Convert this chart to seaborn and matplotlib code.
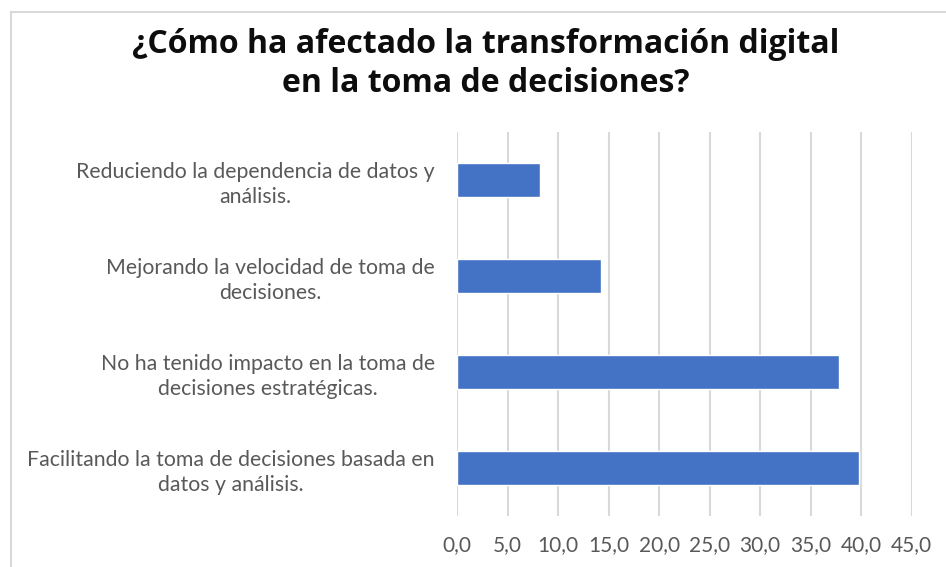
import matplotlib
matplotlib.use("Agg")
import matplotlib.pyplot as plt
import seaborn as sns
import pandas as pd
from matplotlib.lines import Line2D

# =======================
# Data
# =======================
categories = [
    "Reduciendo la dependencia de datos y\nanálisis.",
    "Mejorando la velocidad de toma de\ndecisiones.",
    "No ha tenido impacto en la toma de\ndecisiones estratégicas.",
    "Facilitando la toma de decisiones basada en\ndatos y análisis.",
]
values = [8.2, 14.3, 37.8, 39.8]
x_ticks = [0, 5, 10, 15, 20, 25, 30, 35, 40, 45]
x_tick_labels = ["0,0", "5,0", "10,0", "15,0", "20,0", "25,0", "30,0", "35,0", "40,0", "45,0"]
title = "¿Cómo ha afectado la transformación digital\nen la toma de decisiones?"

BAR_COLOR = "#4472C4"
GRID_COLOR = "#D9D9D9"
TEXT_COLOR = "#595959"

df = pd.DataFrame({"categoria": categories, "valor": values})

# =======================
# Plot
# =======================
sns.set_style("white")
plt.rcParams["font.family"] = ["Lato", "DejaVu Sans"]

fig = plt.figure(figsize=(9.46, 5.67), dpi=100)
ax = fig.add_axes([457 / 946, 1 - 516 / 567, (911.7 - 457) / 946, (516 - 132) / 567])

sns.barplot(data=df, x="valor", y="categoria", orient="h", color=BAR_COLOR,
            width=0.354, ax=ax, saturation=1, zorder=3)

ax.set_xlim(0, 45)
ax.set_ylim(3.5, -0.5)
ax.set_xticks(x_ticks)
ax.set_xticklabels(x_tick_labels)
ax.xaxis.grid(True, color=GRID_COLOR, linewidth=1.5, zorder=0)
ax.yaxis.grid(False)
ax.set_axisbelow(True)
for s in ax.spines.values():
    s.set_visible(False)
ax.set_xlabel("")
ax.set_ylabel("")
ax.tick_params(axis="x", length=0, pad=14, labelsize=15, labelcolor=TEXT_COLOR)
ax.tick_params(axis="y", length=0, pad=16, labelsize=15.3, labelcolor=TEXT_COLOR)
for lbl in ax.get_yticklabels():
    lbl.set_multialignment("center")
    lbl.set_linespacing(1.3)

fig.text(486 / 946, 1 - 64 / 567, title, ha="center", va="center",
         fontsize=23, fontweight="bold", color="#0D0D0D", linespacing=1.25,
         family=["Open Sans", "DejaVu Sans"])

# chart frame (left and top edges visible)
fig.add_artist(Line2D([11 / 946, 11 / 946], [0, 1 - 12 / 567], transform=fig.transFigure,
                      color=GRID_COLOR, linewidth=1.5))
fig.add_artist(Line2D([11 / 946, 1], [1 - 12 / 567, 1 - 12 / 567], transform=fig.transFigure,
                      color=GRID_COLOR, linewidth=1.5))

fig.savefig("out.png", dpi=100)
plt.close(fig)
